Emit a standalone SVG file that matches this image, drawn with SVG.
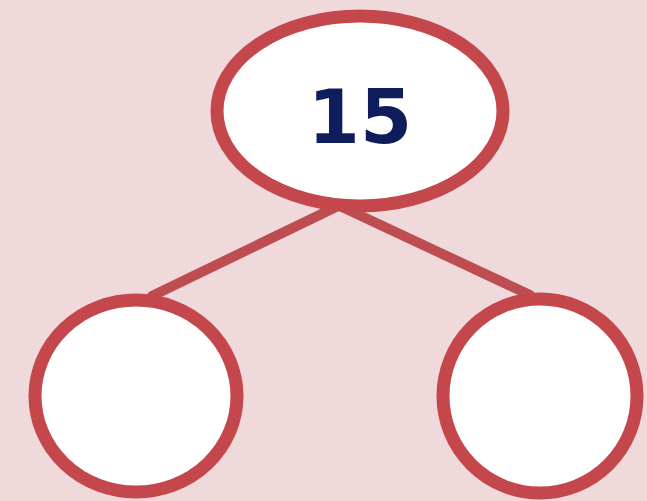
<svg xmlns="http://www.w3.org/2000/svg" width="647" height="501" viewBox="0 0 647 501">
<style>
.node{fill:#ffffff;stroke:#c4474b;stroke-width:13}
.conn{stroke:#bd4d50;stroke-width:10;stroke-linecap:round;fill:none}
.lbl{font-family:"DejaVu Sans",Verdana,sans-serif;font-weight:bold;font-size:75px;fill:#0f1d5c;text-anchor:middle}
</style>
<rect width="647" height="501" fill="#efd9da"/>
<g id="connectors">
<line class="conn" x1="336" y1="207" x2="152" y2="296"/>
<line class="conn" x1="342" y1="207" x2="530" y2="295"/>
</g>
<g id="top">
<ellipse class="node" cx="360" cy="111" rx="143" ry="95"/>
<text class="lbl" x="360" y="143">15</text>
</g>
<g id="left">
<ellipse class="node" cx="136" cy="396" rx="101" ry="96"/>
</g>
<g id="right">
<ellipse class="node" cx="540" cy="396" rx="97" ry="97"/>
</g>
</svg>
